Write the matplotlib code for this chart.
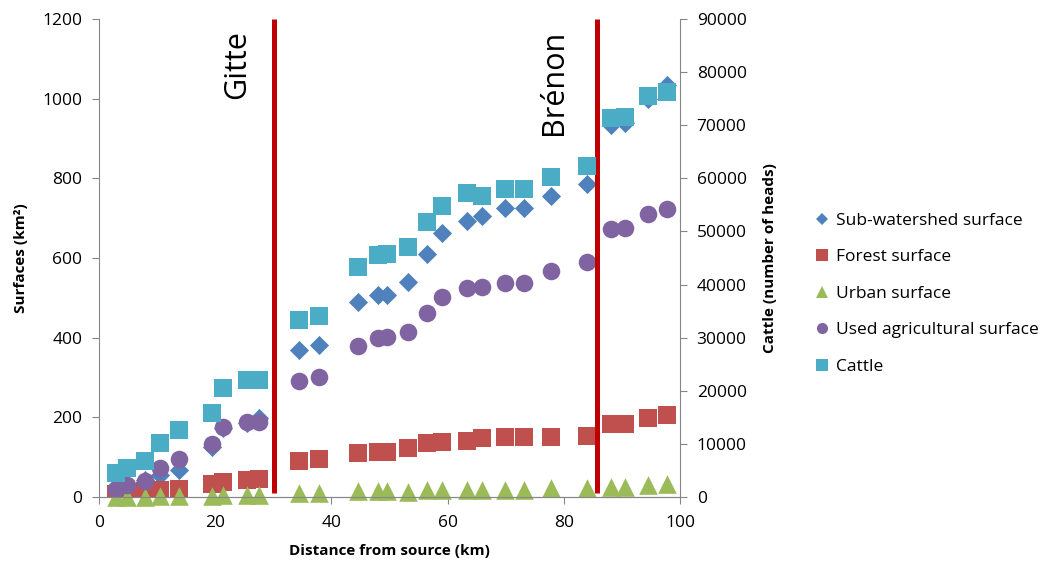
import numpy as np
import matplotlib.pyplot as plt
from matplotlib.lines import Line2D

plt.rcParams['font.family'] = ['Open Sans', 'DejaVu Sans']

# distance from source (km)
distance = [3.0, 4.9, 8.0, 10.5, 13.8, 19.5, 21.4, 25.4, 27.5, 34.4, 37.9, 44.6, 48.1, 49.5,
            53.2, 56.4, 59.0, 63.4, 66.0, 69.8, 73.2, 77.8, 84.0, 88.1, 90.5, 94.5, 97.7]

# surfaces (km2)
subwatershed = [20, 30, 42, 55, 68, 126, 173, 186, 198, 369, 382, 490, 507, 507,
                541, 610, 662, 694, 705, 725, 726, 756, 786, 933, 940, 998, 1035]
forest = [8, 12, 16, 18, 20, 32, 38, 43, 45, 91, 95, 110, 114, 114,
          122, 135, 139, 141, 147, 150, 150, 151, 153, 183, 183, 198, 206]
urban = [1, 1, 1, 2, 2, 3, 4, 6, 5, 9, 11, 15, 16, 16,
         13, 18, 18, 18, 18, 18, 18, 22, 22, 26, 26, 30, 33]
agri = [20, 30, 40, 72, 95, 132, 175, 188, 189, 292, 302, 380, 398, 402,
        415, 461, 503, 525, 527, 538, 538, 568, 589, 672, 675, 711, 722]

# cattle (number of heads)
cattle = [4500, 5400, 6800, 10100, 12700, 15900, 20600, 22000, 22000, 33400, 34100, 43300,
          45500, 45800, 47000, 51800, 54700, 57300, 56700, 57900, 57900, 60300, 62400,
          71300, 71600, 75500, 76300]

towns = ["Gitte", "Brénon"]
town_km = [30.1, 85.7]
town_text_km = [23.8, 78.3]

c_sub, c_for, c_urb, c_agr, c_cat = '#4F81BD', '#C0504D', '#9BBB59', '#8064A2', '#4BACC6'
grey = '#868686'

fig = plt.figure(figsize=(10.45, 5.64), dpi=100)
ax = fig.add_axes([0.0947, 0.1188, 0.5560, 0.8475])
ax2 = ax.twinx()

ax.scatter(distance, subwatershed, marker='D', s=95, color=c_sub, linewidths=0, zorder=3)
ax.scatter(distance, forest, marker='s', s=150, color=c_for, linewidths=0, zorder=3)
ax.scatter(distance, urban, marker='^', s=180, color=c_urb, linewidths=0, zorder=3, clip_on=False)
ax.scatter(distance, agri, marker='o', s=160, color=c_agr, linewidths=0, zorder=4)
ax2.scatter(distance, cattle, marker='s', s=150, color=c_cat, linewidths=0, zorder=3)

for name, xl, xt in zip(towns, town_km, town_text_km):
    ax.plot([xl, xl], [10, 1200], color='#C00000', lw=3.6, zorder=5, solid_capstyle='butt')
    ax.text(xt, 1172, name, rotation=90, ha='center', va='top', fontsize=22)

ax.set_xlim(0, 100)
ax.set_ylim(0, 1200)
ax2.set_ylim(0, 90000)
ax.set_xticks(np.arange(0, 101, 20))
ax.set_yticks(np.arange(0, 1201, 200))
ax2.set_yticks(np.arange(0, 90001, 10000))

for a in (ax, ax2):
    for s in a.spines.values():
        s.set_color(grey)
    a.spines['top'].set_visible(False)
    a.tick_params(colors=grey, labelcolor='black', labelsize=12.5, length=5)
ax.spines['right'].set_visible(False)
ax2.spines['left'].set_visible(False)
ax.tick_params(axis='y', pad=7)
ax2.tick_params(axis='y', pad=7)
ax.tick_params(axis='x', pad=8)

ax.set_xlabel('Distance from source (km)', fontsize=11, fontweight='bold', labelpad=9)
ax.set_ylabel('Surfaces (km²)', fontsize=11, fontweight='bold', labelpad=10)
ax2.set_ylabel('Cattle (number of heads)', fontsize=11, fontweight='bold', labelpad=12)

handles = [
    Line2D([], [], ls='none', marker='D', ms=6, color=c_sub, mew=0),
    Line2D([], [], ls='none', marker='s', ms=8, color=c_for, mew=0),
    Line2D([], [], ls='none', marker='^', ms=9, color=c_urb, mew=0),
    Line2D([], [], ls='none', marker='o', ms=8, color=c_agr, mew=0),
    Line2D([], [], ls='none', marker='s', ms=8, color=c_cat, mew=0),
]
labels = ['Sub-watershed surface', 'Forest surface', 'Urban surface',
          'Used agricultural surface', 'Cattle']
fig.legend(handles, labels, loc='center left', bbox_to_anchor=(0.772, 0.479),
           frameon=False, fontsize=12.5, handlelength=0.8, handletextpad=0.4,
           labelspacing=1.17, borderpad=0)

fig.savefig('out.png', dpi=100)
